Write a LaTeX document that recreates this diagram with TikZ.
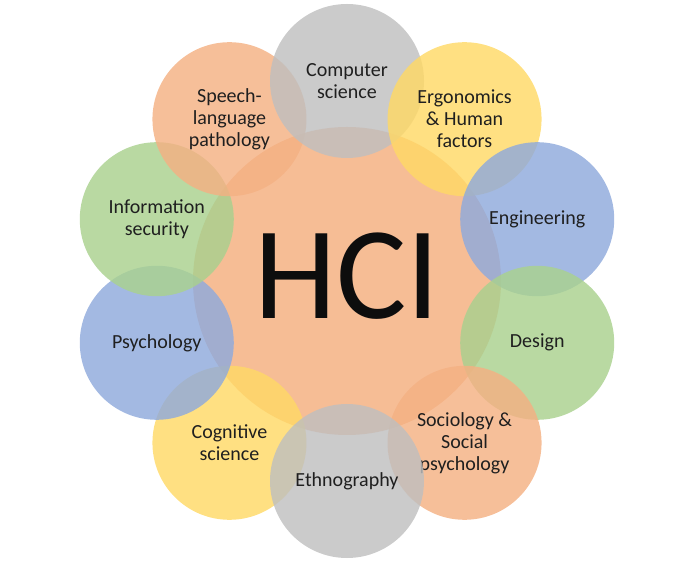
\documentclass[tikz,border=0pt]{standalone}
\usepackage{fontspec}
\setmainfont{Carlito}
\definecolor{hciorange}{HTML}{F4B183}
\definecolor{hcigray}{HTML}{BFBFBF}
\definecolor{hciyellow}{HTML}{FFD966}
\definecolor{hciblue}{HTML}{8FAADC}
\definecolor{hcigreen}{HTML}{A9D18E}
\definecolor{hcitext}{HTML}{1F1F1F}
\begin{document}
\begin{tikzpicture}[x=1pt,y=1pt,
    core/.style={circle,minimum size=308pt,inner sep=0pt,fill=hciorange,
      fill opacity=0.85,text opacity=1,text=black!95,text depth=11pt,
      font=\fontsize{132}{132}\selectfont},
    field/.style={circle,minimum size=154pt,inner sep=0pt,fill opacity=0.82,
      text opacity=1,text=hcitext,align=center,
      font=\fontsize{20}{22}\selectfont}]
      \useasboundingbox (-347,-280) rectangle (348,281);
      \node[core] (hci) at (0,0) {HCI};
      \draw
        (-126:200) node[field,fill=hciyellow] (cogsci){Cognitive\\science}
        (-162:200) node[field,fill=hciblue] (psych){Psychology}
        (162:200) node[field,fill=hcigreen] (infosec){Information\\security}
        (126:200) node[field,fill=hciorange] (speech){Speech-\\language\\pathology}
        (90:200) node[field,fill=hcigray] (compsci){Computer\\science}
        (54:200) node[field,fill=hciyellow] (ergo){Ergonomics\\\& Human\\factors}
        (18:200) node[field,fill=hciblue] (eng){Engineering}
        (-18:200) node[field,fill=hcigreen] (design){Design}
        (-54:200) node[field,fill=hciorange] (socio){Sociology \&\\Social\\psychology}
        (-90:200) node[field,fill=hcigray] (ethno){Ethnography};
    \end{tikzpicture}
\end{document}
